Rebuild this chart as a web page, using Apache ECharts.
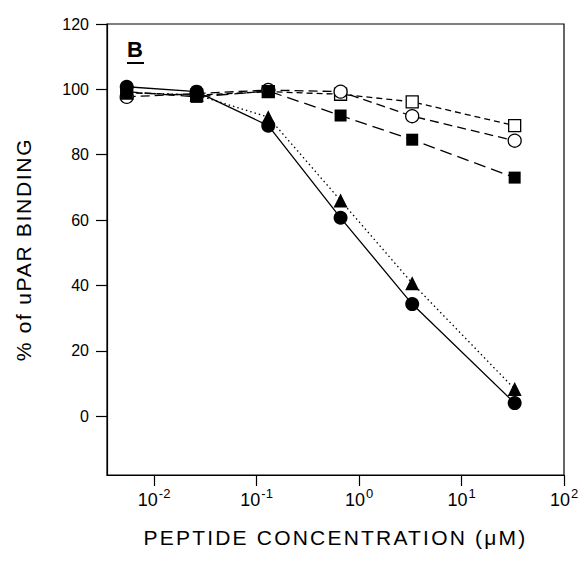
<!DOCTYPE html>
<html>
<head>
<meta charset="utf-8">
<script src="https://cdn.jsdelivr.net/npm/echarts@6/dist/echarts.min.js"></script>
<style>html,body{margin:0;padding:0;background:#fff}#c{width:585px;height:564px}</style>
</head>
<body>
<div id="c"></div>
<script>
var concentrations = [0.0054, 0.026, 0.13, 0.66, 3.3, 33];
var filledCircle = [100.8, 99.3, 88.9, 60.7, 34.3, 4.0];
var filledTriangle = [99.0, 98.3, 91.5, 66.0, 40.7, 8.3];
var filledSquare = [99.3, 97.7, 99.5, 92.0, 84.6, 73.0];
var openCircle = [97.7, 98.7, 99.8, 99.3, 91.8, 84.3];
var openSquare = [99.0, 98.2, 99.3, 98.5, 96.2, 88.9];
var xTicks = [0.01, 0.1, 1, 10, 100];
var yTicks = [0, 20, 40, 60, 80, 100, 120];
var xName = 'PEPTIDE CONCENTRATION (\u03bcM)';
var yName = '% of uPAR BINDING';

function pairs(vals) {
  return concentrations.map(function (c, i) { return [c, vals[i]]; });
}
var FONT = 'Liberation Sans, Arial, sans-serif';
function mk(name, vals, symbol, size, filled, lineType) {
  return {
    name: name, type: 'line', data: pairs(vals),
    symbol: symbol, symbolSize: size, showAllSymbol: true,
    lineStyle: { color: '#000', width: 1.3, type: lineType },
    itemStyle: { color: filled ? '#000' : '#fff', borderColor: '#000', borderWidth: filled ? 0 : 1.3, opacity: 1 },
    emphasis: { disabled: true }, animation: false, silent: true
  };
}
var chart = echarts.init(document.getElementById('c'), null, { renderer: 'svg' });
chart.setOption({
  backgroundColor: '#fff',
  animation: false,
  grid: { left: 107, right: 21, top: 24, bottom: 89, show: true, borderColor: '#000', borderWidth: 1.2, backgroundColor: 'transparent' },
  graphic: [
    { type: 'text', left: 127, top: 38, style: { text: 'B', font: 'bold 22px ' + FONT, fill: '#000' } },
    { type: 'rect', shape: { x: 127, y: 62, width: 17, height: 2 }, style: { fill: '#000' } }
  ],
  xAxis: {
    type: 'log', logBase: 10, min: Math.pow(10, -2.46), max: 100,
    name: xName, nameLocation: 'middle', nameGap: 52,
    nameTextStyle: { fontFamily: FONT, fontSize: 21, color: '#000' },
    axisLine: { onZero: false, lineStyle: { color: '#000', width: 1.2 } },
    axisTick: { show: true, length: 11, inside: false, lineStyle: { color: '#000', width: 1.2 }, customValues: xTicks },
    minorTick: { show: false },
    splitLine: { show: false },
    axisLabel: {
      customValues: xTicks, margin: 12,
      formatter: function (v) {
        var e = Math.round(Math.log10(v));
        return '{b|10}{s|' + e + '}';
      },
      rich: {
        b: { fontFamily: FONT, fontSize: 18, color: '#000', lineHeight: 22, verticalAlign: 'bottom' },
        s: { fontFamily: FONT, fontSize: 13, color: '#000', lineHeight: 22, verticalAlign: 'top', padding: [0, 0, 0, 1] }
      }
    }
  },
  yAxis: {
    type: 'value', min: -18, max: 120,
    name: yName, nameLocation: 'middle', nameGap: 73, nameRotate: 90,
    nameTextStyle: { fontFamily: FONT, fontSize: 21, color: '#000' },
    axisLine: { show: true, onZero: false, lineStyle: { color: '#000', width: 1.2 } },
    axisTick: { show: true, length: 11, lineStyle: { color: '#000', width: 1.2 }, customValues: yTicks },
    splitLine: { show: false },
    axisLabel: { customValues: yTicks, fontFamily: FONT, fontSize: 16, color: '#000', margin: 18 }
  },
  series: [
    mk('open square', openSquare, 'rect', 12, false, [6, 4]),
    mk('open circle', openCircle, 'circle', 13, false, [9, 5]),
    mk('filled square', filledSquare, 'rect', 12, true, [12, 6]),
    mk('filled triangle', filledTriangle, 'triangle', 14, true, [1.5, 3]),
    mk('filled circle', filledCircle, 'circle', 14, true, 'solid')
  ]
});
function spaceNames() {
  var texts = document.querySelectorAll('#c svg text');
  for (var i = 0; i < texts.length; i++) {
    var t = texts[i].textContent;
    if (t === xName) texts[i].style.letterSpacing = '2.2px';
    else if (t === yName) texts[i].style.letterSpacing = '1.7px';
  }
}
spaceNames();
chart.on('finished', spaceNames);
</script>
</body>
</html>
